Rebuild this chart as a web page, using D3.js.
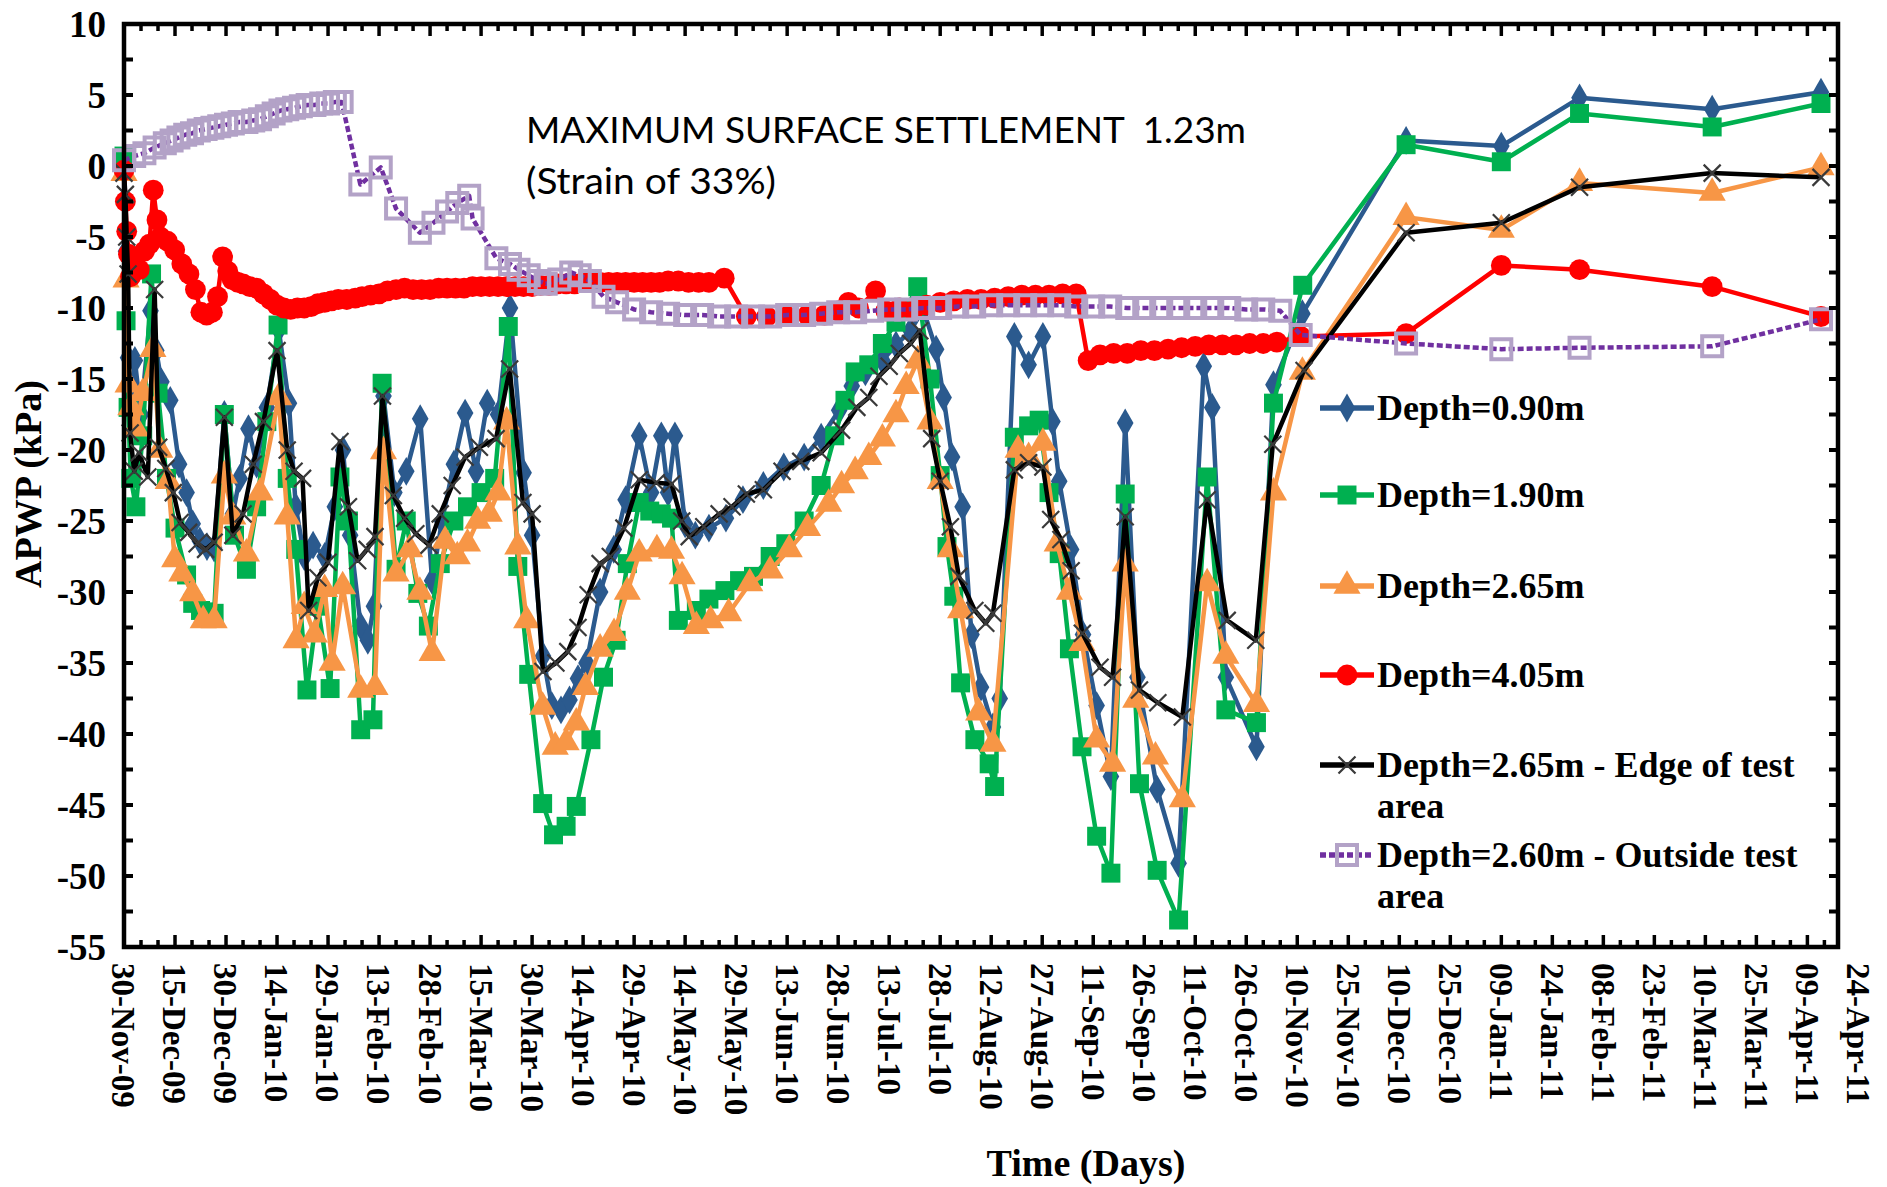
<!DOCTYPE html>
<html>
<head>
<meta charset="utf-8">
<script src="https://cdn.jsdelivr.net/npm/d3@7"></script>
<style>
  body { margin: 0; background: #fff; }
  svg { display: block; }
</style>
</head>
<body>
<svg id="chart" width="1887" height="1187"></svg>
<script>
// Piezometer readings: [day since 30-Nov-2009, excess pore water pressure APWP in kPa]
const depth090 = [[0,-0.3],[0.6,-6],[1.2,-13.5],[2,-17],[3.2,-13.7],[5,-17.5],[7.8,-10.2],[9.5,-13],[11,-15.2],[13.6,-16.5],[16.2,-21],[18.4,-23],[20.2,-25.2],[22.3,-26.4],[24.4,-26.8],[26.5,-26.9],[29.5,-17.5],[32,-24.5],[34,-22],[36.6,-18.5],[39,-21],[42,-17],[45.5,-11.5],[48.5,-16.7],[50.5,-24],[53,-27.5],[55.6,-26.7],[59,-27.5],[62,-24],[64.4,-20],[66.5,-26],[69.6,-32.4],[71.7,-33.4],[73.5,-31],[76.3,-16.2],[79.5,-23],[83,-21.5],[87.1,-17.8],[90.6,-29.2],[93.5,-25],[97,-21],[100.3,-17.4],[103.5,-21.5],[106.8,-16.7],[110,-17.5],[113.5,-10],[117.5,-21.6],[120,-26],[123.2,-34.5],[125.8,-38],[128.5,-38.3],[131,-37.6],[133.5,-36.1],[136,-35],[140,-30],[144,-27],[147.5,-23.5],[151.5,-19],[155,-23],[158,-19],[160,-23],[162,-19],[165,-25.2],[168,-26],[172,-25.5],[177,-24.8],[182,-23.5],[188,-22.5],[194,-21.2],[200,-20.5],[205,-19.1],[210.3,-17.2],[214,-15.5],[218,-14.5],[223,-13.7],[227,-12.6],[231.3,-11.6],[235,-10.1],[238.8,-12.9],[241,-16.3],[243.5,-20.5],[246.6,-24],[249.2,-33],[252,-36.7],[255.5,-39.5],[257.5,-37.5],[261.8,-12],[266,-14],[270.2,-12],[273,-18],[275,-22.2],[278.5,-27],[282,-33],[286,-38],[290.2,-43],[294.4,-18.1],[298,-36],[303.8,-43.9],[310.1,-49.1],[317.5,-14.1],[320,-17],[324,-36],[333,-40.9],[338,-15.4],[346.5,-10.4],[377,1.8],[405,1.4],[428,4.8],[467,4.0],[499,5.2]];

const depth190 = [[0,0.7],[0.6,-10.9],[1.2,-17],[2,-22],[3.5,-24],[5.5,-19],[8.1,-7.6],[10,-16],[12.5,-22],[15,-25.5],[18.4,-28.8],[20.2,-30.8],[22.5,-31.3],[24.5,-31.4],[26.5,-31.5],[29.5,-17.5],[32.5,-26],[36,-28.4],[39,-24],[42,-18],[45.3,-11.2],[48,-22],[50.5,-27],[53.8,-36.9],[57,-31],[60.6,-36.8],[63.5,-21.9],[66,-25],[69.6,-39.7],[73.2,-39],[75.9,-15.3],[80,-28.4],[83,-25],[86.4,-30.1],[89.5,-32.4],[93,-28],[97,-25],[101,-24],[105,-23],[109,-22],[113,-11.3],[115.8,-28.2],[119,-35.8],[123.1,-44.9],[126.3,-47.1],[130,-46.5],[133,-45.1],[137.3,-40.4],[141,-36],[144.7,-33.4],[148,-28],[151.5,-23.7],[154.6,-24.3],[158,-24.5],[161,-24.8],[163,-32],[168.3,-31.3],[172,-30.5],[176.7,-29.9],[181,-29.2],[185.1,-28.9],[190,-27.5],[194.6,-26.6],[200,-25],[205,-22.5],[209,-19],[212,-16.5],[215,-14.5],[219,-14],[223,-12.5],[227,-11],[230,-10],[233.4,-8.5],[237,-15],[240,-21.8],[242,-26.8],[244,-30.3],[246,-36.4],[250.2,-40.4],[254.4,-42.1],[256,-43.7],[261.8,-19.1],[266,-18.3],[269.1,-17.9],[272,-23],[275,-27.3],[278,-34],[281.7,-40.9],[286,-47.2],[290.2,-49.8],[294.4,-23.1],[298.6,-43.5],[303.8,-49.6],[310.1,-53.1],[318.5,-21.9],[324,-38.3],[333,-39.2],[338,-16.7],[346.6,-8.4],[377,1.5],[405,0.3],[428,3.7],[467,2.75],[499,4.4]];

const depth265 = [[0,-0.5],[0.6,-8],[1.2,-15.4],[2,-17],[3.5,-18.5],[5.5,-16],[8.5,-12.9],[10.5,-20],[13,-22.2],[14.9,-27.7],[17,-28.7],[20.2,-30.1],[23.3,-32],[26.5,-32],[29.5,-21.8],[32,-24.7],[36,-27.3],[40,-23],[45.5,-16.3],[48,-24.7],[50.6,-33.4],[53,-31],[56,-33],[59,-29.8],[61.2,-35],[64.3,-29.6],[69.6,-36.9],[73.8,-36.7],[76.3,-20.1],[80,-28.7],[84,-27],[87,-30],[90.6,-34.3],[94.4,-26.4],[98,-27.5],[101,-26.6],[104,-25],[107.4,-24.5],[110,-23],[112.5,-18],[115.8,-26.8],[118.4,-32],[123.1,-38.1],[126.8,-40.9],[130,-40.6],[133,-39.2],[135.7,-36.7],[140,-34],[144.1,-32.9],[148,-30],[151.5,-27.3],[156.7,-27],[161,-27.1],[164.1,-28.9],[168.3,-32.4],[172.5,-32],[177.8,-31.5],[184,-29.4],[190,-28.5],[195.6,-27],[201,-25.5],[207.2,-23.8],[211,-22.5],[215,-21.5],[219,-20.5],[223,-19.2],[227,-17.5],[230,-15.5],[233.4,-13.7],[237,-18],[240,-22.2],[243,-27],[246,-31.3],[251.3,-38.5],[255.5,-40.7],[262.9,-20],[266,-20.5],[270.2,-19.5],[274.4,-26.6],[278,-30],[281.7,-33.6],[286,-40.4],[290.7,-42.1],[294.4,-28],[297.5,-37.6],[303.3,-41.6],[311.2,-44.6],[318.5,-29.4],[324,-34.5],[333,-37.9],[338,-23],[346.5,-14.5],[377,-3.6],[405,-4.5],[428,-1.2],[467,-1.9],[499,-0.1]];

const depth405 = [[0,-0.3],[0.4,-2.5],[0.8,-4.6],[1.3,-6.2],[1.9,-7.8],[3,-6.6],[4.5,-7.3],[6,-6],[7.5,-5.5],[8.6,-1.7],[9.7,-3.8],[10.7,-5.0],[12.8,-5.3],[14.9,-5.9],[17,-6.9],[19.1,-7.6],[21,-8.7],[22.6,-10.3],[24.3,-10.5],[26,-10.3],[27.5,-9.2],[29,-6.4],[30.5,-7.4],[31.8,-8.0],[33.5,-8.2],[35,-8.3],[37,-8.5],[39,-8.6],[41,-9.0],[43,-9.4],[45,-9.8],[47,-10.0],[49,-10.1],[51,-10.0],[53,-10.0],[55,-9.9],[57,-9.7],[59,-9.6],[61,-9.5],[63,-9.4],[65.5,-9.4],[68,-9.3],[70,-9.2],[72.5,-9.1],[75,-9.0],[77.5,-8.8],[80,-8.7],[82.5,-8.6],[85,-8.7],[87.5,-8.7],[90,-8.7],[92.5,-8.6],[95,-8.6],[97.5,-8.6],[100,-8.6],[102.5,-8.5],[105,-8.5],[107.5,-8.5],[110,-8.5],[112.5,-8.5],[115,-8.5],[117.5,-8.5],[120,-8.5],[122.5,-8.4],[125,-8.4],[127.5,-8.3],[130,-8.3],[132.5,-8.3],[135,-8.2],[137.5,-8.2],[140,-8.2],[142.5,-8.2],[145,-8.2],[147.5,-8.2],[150,-8.2],[152.5,-8.2],[155,-8.2],[157.5,-8.2],[160,-8.1],[163,-8.1],[166,-8.2],[169,-8.2],[172,-8.2],[176.5,-7.9],[183,-10.6],[189,-10.6],[195,-10.6],[201,-10.5],[206,-10.5],[210,-10.2],[213,-9.6],[216,-10.0],[221,-8.8],[224,-10.2],[228,-10.0],[232,-10.2],[236,-9.8],[240,-9.6],[244,-9.5],[248,-9.4],[252,-9.4],[256,-9.3],[260,-9.2],[264,-9.1],[268,-9.1],[272,-9.1],[276,-9.0],[280,-9.0],[283.5,-13.7],[287,-13.3],[291,-13.2],[295,-13.2],[299,-13.0],[303,-13.0],[307,-12.9],[311,-12.8],[315,-12.7],[319,-12.6],[323,-12.6],[327,-12.6],[331,-12.5],[335,-12.5],[339,-12.4],[346,-12.0],[377,-11.8],[405,-7.0],[428,-7.3],[467,-8.5],[499,-10.6]];

const depth265Edge = [[0,-0.5],[0.4,-2],[0.8,-5],[1.2,-7.6],[1.8,-18.8],[3,-21.5],[4.4,-20.2],[7,-21.9],[9,-8.7],[10.2,-19.8],[12.3,-21.3],[14.5,-23],[16.5,-25.1],[19,-25.8],[21.5,-26.6],[24,-27],[26.5,-26.5],[29.5,-17.7],[32,-26],[35,-24.5],[38,-21],[41,-18],[45,-13],[48,-20],[50,-21.5],[52.5,-22],[54.3,-31.3],[57,-29],[60,-27.9],[63.5,-19.4],[66,-24],[68.7,-27.8],[71.5,-27],[73.8,-26.1],[76,-16.2],[79.2,-23.2],[82.5,-24.8],[85.8,-25.9],[89.7,-26.7],[93,-24.5],[96.5,-22.5],[100.3,-20.5],[104.5,-19.8],[109.4,-19.2],[113.4,-14.3],[117.3,-23.7],[120,-24.5],[123.2,-35.6],[127,-35.0],[130.5,-34.2],[133.5,-32.5],[136.5,-30.2],[140,-28],[143,-27.5],[147,-25.5],[151.5,-22.1],[156.5,-22.3],[161,-22.4],[164,-25],[166.2,-26.1],[170.5,-25.4],[175,-24.5],[178.8,-24],[183,-23.1],[188,-22.8],[193.5,-21.5],[199,-20.8],[205,-20.2],[211,-18.6],[215.5,-17],[219,-16.3],[222,-14.8],[225,-14.1],[228,-13.2],[231.3,-12.5],[234,-11.6],[237.5,-19.2],[240,-22.2],[243,-25.4],[245.5,-28.9],[250.2,-31.3],[253.4,-32.2],[255.5,-31.5],[261.8,-21.4],[266,-20.9],[270.2,-21.2],[272.5,-24.9],[275.5,-26.3],[278.5,-28.5],[281.8,-32.9],[287,-35.3],[290.7,-36],[294.4,-24.7],[298.6,-36.9],[304,-37.8],[311.2,-38.8],[318.5,-23.5],[324.4,-32],[332.8,-33.4],[337.8,-19.6],[347,-14.4],[377,-4.7],[405,-4.0],[428,-1.5],[467,-0.5],[499,-0.8]];

const depth260Outside = [[0,0.4],[3,0.7],[6,0.9],[9,1.3],[12,1.6],[14,1.8],[16,2.0],[18,2.2],[20,2.3],[22,2.5],[24,2.6],[26,2.7],[28,2.8],[30,2.9],[32,3.0],[34,3.1],[36,3.1],[38,3.2],[40,3.3],[42,3.5],[44,3.7],[46,3.9],[48,4.0],[50,4.1],[52,4.2],[54,4.3],[56,4.3],[58,4.4],[60,4.4],[62,4.5],[64,4.5],[69.5,-1.3],[75.5,-0.1],[80,-3.0],[87,-4.7],[91,-4.0],[95,-3.2],[98,-2.6],[101.5,-2.1],[102.5,-3.7],[109.5,-6.5],[113.5,-6.9],[116,-7.3],[119,-7.7],[122,-8.1],[124,-8.3],[128,-8.0],[131.5,-7.5],[134,-7.7],[137,-8.1],[141,-9.2],[145,-9.6],[150,-10.1],[155,-10.3],[160,-10.4],[165,-10.5],[170,-10.5],[175,-10.6],[180,-10.6],[185,-10.6],[190,-10.6],[195,-10.5],[200,-10.5],[205,-10.4],[210,-10.3],[215,-10.3],[220,-10.2],[225,-10.1],[230,-10.1],[235,-10.0],[240,-10.0],[245,-9.9],[250,-9.9],[255,-9.8],[260,-9.8],[265,-9.8],[270,-9.8],[275,-9.8],[280,-9.9],[285,-9.9],[290,-9.9],[295,-10.0],[300,-10.0],[305,-10.0],[310,-10.0],[315,-10.0],[320,-10.0],[325,-10.0],[330,-10.1],[335,-10.1],[340,-10.2],[346,-11.9],[377,-12.5],[405,-12.9],[428,-12.8],[467,-12.7],[499,-10.8]];

const seriesNames = ["Depth=0.90m", "Depth=1.90m", "Depth=2.65m", "Depth=4.05m",
  "Depth=2.65m - Edge of test|area", "Depth=2.60m - Outside test|area"];

const xTickLabels = ["30-Nov-09","15-Dec-09","30-Dec-09","14-Jan-10","29-Jan-10","13-Feb-10","28-Feb-10",
  "15-Mar-10","30-Mar-10","14-Apr-10","29-Apr-10","14-May-10","29-May-10","13-Jun-10","28-Jun-10",
  "13-Jul-10","28-Jul-10","12-Aug-10","27-Aug-10","11-Sep-10","26-Sep-10","11-Oct-10","26-Oct-10",
  "10-Nov-10","25-Nov-10","10-Dec-10","25-Dec-10","09-Jan-11","24-Jan-11","08-Feb-11","23-Feb-11",
  "10-Mar-11","25-Mar-11","09-Apr-11","24-Apr-11"];
const xDomain = ["30-Nov-09", "18-Apr-11"];
const yTicks = [10, 5, 0, -5, -10, -15, -20, -25, -30, -35, -40, -45, -50, -55];
const yDomain = [-55, 10];

// ---------------------------------------------------------------------------
const svg = d3.select("#chart");
const parse = d3.utcParse("%d-%b-%y");
const start = parse(xDomain[0]);
const dayToDate = d => new Date(start.getTime() + d * 864e5);

const plot = { left: 124, right: 1838, top: 24, bottom: 947 };
const x = d3.scaleUtc().domain(xDomain.map(parse)).range([plot.left, plot.right]);
const y = d3.scaleLinear().domain(yDomain).range([plot.bottom, plot.top]);

const serif = "'Liberation Serif', 'Times New Roman', serif";

// Series styling
const series = [
  { data: depth090, color: "#2B5A8E", marker: "diamond" },
  { data: depth190, color: "#00B050", marker: "square" },
  { data: depth265, color: "#F79646", marker: "triangle" },
  { data: depth405, color: "#FF0000", marker: "circle" },
  { data: depth265Edge, color: "#000000", marker: "cross" },
  { data: depth260Outside, color: "#7030A0", marker: "hollow", dash: "6,3" }
].map((s, i) => ({ ...s, name: seriesNames[i] }));

function drawMarker(g, type, color, scale = 1) {
  if (type === "diamond") {
    g.append("path").attr("d", d3.symbol(d3.symbolDiamond, 240 * scale)()).attr("fill", color);
  } else if (type === "square") {
    g.append("path").attr("d", d3.symbol(d3.symbolSquare, 360 * scale)()).attr("fill", color);
  } else if (type === "triangle") {
    g.append("path").attr("d", d3.symbol(d3.symbolTriangle, 320 * scale)()).attr("fill", color);
  } else if (type === "circle") {
    g.append("path").attr("d", d3.symbol(d3.symbolCircle, 340 * scale)()).attr("fill", color);
  } else if (type === "cross") {
    const r = 8.5 * Math.sqrt(scale);
    g.append("path").attr("d", `M${-r},${-r}L${r},${r}M${-r},${r}L${r},${-r}`)
      .attr("stroke", "#3a3a3a").attr("stroke-width", 2.2).attr("fill", "none");
  } else if (type === "hollow") {
    g.append("path").attr("d", d3.symbol(d3.symbolSquare, 400 * scale)())
      .attr("fill", "none").attr("stroke", "#B3A2C7").attr("stroke-width", 4);
  }
}

const line = d3.line()
  .x(d => x(dayToDate(d[0])))
  .y(d => y(d[1]));

const seriesLayer = svg.append("g");
series.forEach(s => {
  const g = seriesLayer.append("g");
  g.append("path")
    .attr("d", line(s.data))
    .attr("fill", "none")
    .attr("stroke", s.color)
    .attr("stroke-width", 4.5)
    .attr("stroke-linejoin", "round")
    .attr("stroke-dasharray", s.dash || null);
  g.selectAll("g.pt").data(s.data).join("g")
    .attr("class", "pt")
    .attr("transform", d => `translate(${x(dayToDate(d[0]))},${y(d[1])})`)
    .each(function () { drawMarker(d3.select(this), s.marker, s.color); });
});

// Plot frame with inward ticks
const frame = svg.append("g");
frame.append("rect")
  .attr("x", plot.left).attr("y", plot.top)
  .attr("width", plot.right - plot.left).attr("height", plot.bottom - plot.top)
  .attr("fill", "none").attr("stroke", "#000").attr("stroke-width", 4.5);

const endDay = (x.domain()[1] - start) / 864e5;
const majorDays = xTickLabels.map(l => (parse(l) - start) / 864e5);
d3.range(0, endDay + 0.01, 5).forEach(day => {
  const px = x(dayToDate(day));
  const len = majorDays.includes(day) ? 12 : 7;
  frame.append("line").attr("x1", px).attr("x2", px)
    .attr("y1", plot.bottom).attr("y2", plot.bottom - len)
    .attr("stroke", "#000").attr("stroke-width", 3.5);
  frame.append("line").attr("x1", px).attr("x2", px)
    .attr("y1", plot.top).attr("y2", plot.top + len)
    .attr("stroke", "#000").attr("stroke-width", 3.5);
});
d3.range(yDomain[0], yDomain[1] + 0.01, 2.5).forEach(v => {
  const py = y(v);
  frame.append("line").attr("x1", plot.left).attr("x2", plot.left + 9)
    .attr("y1", py).attr("y2", py).attr("stroke", "#000").attr("stroke-width", 4);
  frame.append("line").attr("x1", plot.right).attr("x2", plot.right - 9)
    .attr("y1", py).attr("y2", py).attr("stroke", "#000").attr("stroke-width", 4);
});

// Y tick labels
svg.append("g").selectAll("text").data(yTicks).join("text")
  .attr("x", 106).attr("y", d => y(d)).attr("dy", "0.35em")
  .attr("text-anchor", "end")
  .style("font-family", serif).style("font-weight", "bold").style("font-size", "37px")
  .text(d => d);

// X tick labels, rotated
svg.append("g").selectAll("text").data(xTickLabels).join("text")
  .attr("transform", d => `translate(${x(parse(d))},${plot.bottom + 16}) rotate(90)`)
  .attr("dy", "0.35em")
  .style("font-family", serif).style("font-weight", "bold").style("font-size", "33px")
  .text(d => d);

// Axis titles
svg.append("text")
  .attr("x", 1086).attr("y", 1176).attr("text-anchor", "middle")
  .style("font-family", serif).style("font-weight", "bold").style("font-size", "38px")
  .text("Time (Days)");
svg.append("text")
  .attr("transform", "translate(28,484) rotate(-90)")
  .attr("text-anchor", "middle").attr("dy", "0.35em")
  .style("font-family", serif).style("font-weight", "bold").style("font-size", "38px")
  .text("APWP (kPa)");

// Annotation
const note = svg.append("g").style("font-family", "Lato, 'Open Sans', sans-serif").style("font-size", "37px");
note.append("text").attr("x", 526).attr("y", 143).style("white-space", "pre")
  .attr("textLength", 720).attr("lengthAdjust", "spacingAndGlyphs")
  .text("MAXIMUM SURFACE SETTLEMENT  1.23m");
note.append("text").attr("x", 526).attr("y", 194)
  .attr("textLength", 250).attr("lengthAdjust", "spacingAndGlyphs")
  .text("(Strain of 33%)");

// Legend
const legendBaselines = [420, 507, 598, 687, 777, 867];
const legend = svg.append("g");
series.forEach((s, i) => {
  const base = legendBaselines[i];
  const cy = base - 12;
  const g = legend.append("g");
  g.append("line").attr("x1", 1320).attr("x2", 1374).attr("y1", cy).attr("y2", cy)
    .attr("stroke", s.color).attr("stroke-width", 5.5)
    .attr("stroke-dasharray", s.dash || null);
  const m = g.append("g").attr("transform", `translate(1347,${cy})`);
  drawMarker(m, s.marker, s.color, 1);
  const parts = s.name.split("|");
  parts.forEach((p, k) => {
    g.append("text").attr("x", 1377).attr("y", base + k * 41)
      .style("font-family", serif).style("font-weight", "bold").style("font-size", "36px")
      .text(p);
  });
});
</script>
</body>
</html>
